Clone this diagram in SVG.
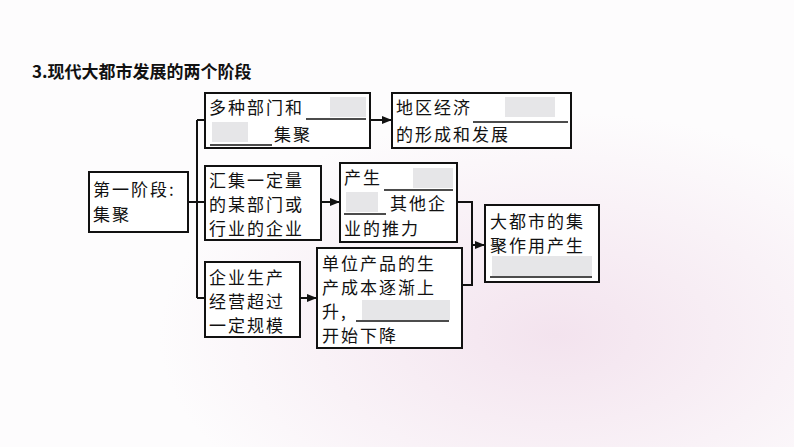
<svg xmlns="http://www.w3.org/2000/svg" width="794" height="447" viewBox="0 0 794 447">
<defs>
<marker id="ar" markerWidth="10" markerHeight="8" refX="9" refY="4" orient="auto" markerUnits="userSpaceOnUse"><path d="M0,0 L10,4 L0,8 z" fill="#111"/></marker>
<radialGradient id="bg" cx="0.7" cy="0.75" r="0.5"><stop offset="0" stop-color="#f3e3ee"/><stop offset="1" stop-color="#fdfcfd"/></radialGradient>
</defs>
<style>
.b{fill:#fff;stroke:#111;stroke-width:2}
.t{font-family:"Noto Sans CJK SC","Noto Sans",sans-serif;font-size:17px;letter-spacing:2px;fill:#111}
.g{fill:#e6e6e8}
.u{stroke:#111;stroke-width:1.5}
.c{fill:none;stroke:#111;stroke-width:2}
</style>
<rect width="794" height="447" fill="url(#bg)"/>
<text x="32" y="78" class="t" font-weight="bold" font-size="19" style="letter-spacing:0">3.现代大都市发展的两个阶段</text>
<g id="connectors">
<path class="c" d="M188,202 H197 M197,120 V298 M197,120 H205 M197,202 H205 M197,298 H205"/>
<path class="c" d="M370,120 H391" marker-end="url(#ar)"/>
<path class="c" d="M321,202 H339" marker-end="url(#ar)"/>
<path class="c" d="M300,298 H316" marker-end="url(#ar)"/>
<path class="c" d="M457,202 H472 V285 H462 M472,245 H484" marker-end="url(#ar)"/>
</g>
<g id="n0"><rect class="b" x="89" y="172" width="99" height="60"/><text class="t" x="93" y="196">第一阶段:</text><text class="t" x="93" y="221">集聚</text></g>
<g id="n1"><rect class="b" x="205" y="93" width="165" height="55"/><rect class="g" x="330" y="97" width="36" height="20"/><rect class="g" x="212" y="122" width="36" height="20"/><text class="t" x="209" y="114">多种部门和</text><line class="u" x1="306" y1="119" x2="366" y2="119"/><line class="u" x1="210" y1="145" x2="272" y2="145"/><text class="t" x="274" y="141">集聚</text></g>
<g id="n2"><rect class="b" x="205" y="166" width="116" height="74"/><text class="t" x="209" y="187">汇集一定量</text><text class="t" x="209" y="211">的某部门或</text><text class="t" x="209" y="235">行业的企业</text></g>
<g id="n3"><rect class="b" x="205" y="262" width="95" height="75"/><text class="t" x="209" y="284">企业生产</text><text class="t" x="209" y="308">经营超过</text><text class="t" x="209" y="332">一定规模</text></g>
<g id="n4"><rect class="b" x="392" y="93" width="179" height="55"/><rect class="g" x="505" y="97" width="50" height="20"/><text class="t" x="396" y="114">地区经济</text><line class="u" x1="473" y1="122" x2="568" y2="122"/><text class="t" x="396" y="141">的形成和发展</text></g>
<g id="n5"><rect class="b" x="340" y="163" width="117" height="79"/><rect class="g" x="413" y="168" width="40" height="20"/><rect class="g" x="346" y="192" width="32" height="20"/><text class="t" x="344" y="184">产生</text><line class="u" x1="384" y1="190" x2="453" y2="190"/><line class="u" x1="344" y1="214" x2="386" y2="214"/><text class="t" x="390" y="210">其他企</text><text class="t" x="344" y="235">业的推力</text></g>
<g id="n6"><rect class="b" x="317" y="248" width="145" height="100"/><rect class="g" x="362" y="300" width="88" height="20"/><text class="t" x="322" y="270">单位产品的生</text><text class="t" x="322" y="294">产成本逐渐上</text><text class="t" x="322" y="318">升,</text><line class="u" x1="356" y1="321" x2="449" y2="321"/><text class="t" x="322" y="342">开始下降</text></g>
<g id="n7"><rect class="b" x="485" y="205" width="114" height="77"/><rect class="g" x="492" y="256" width="100" height="20"/><text class="t" x="490" y="228">大都市的集</text><text class="t" x="490" y="252">聚作用产生</text><line class="u" x1="490" y1="277" x2="592" y2="277"/></g>
</svg>
